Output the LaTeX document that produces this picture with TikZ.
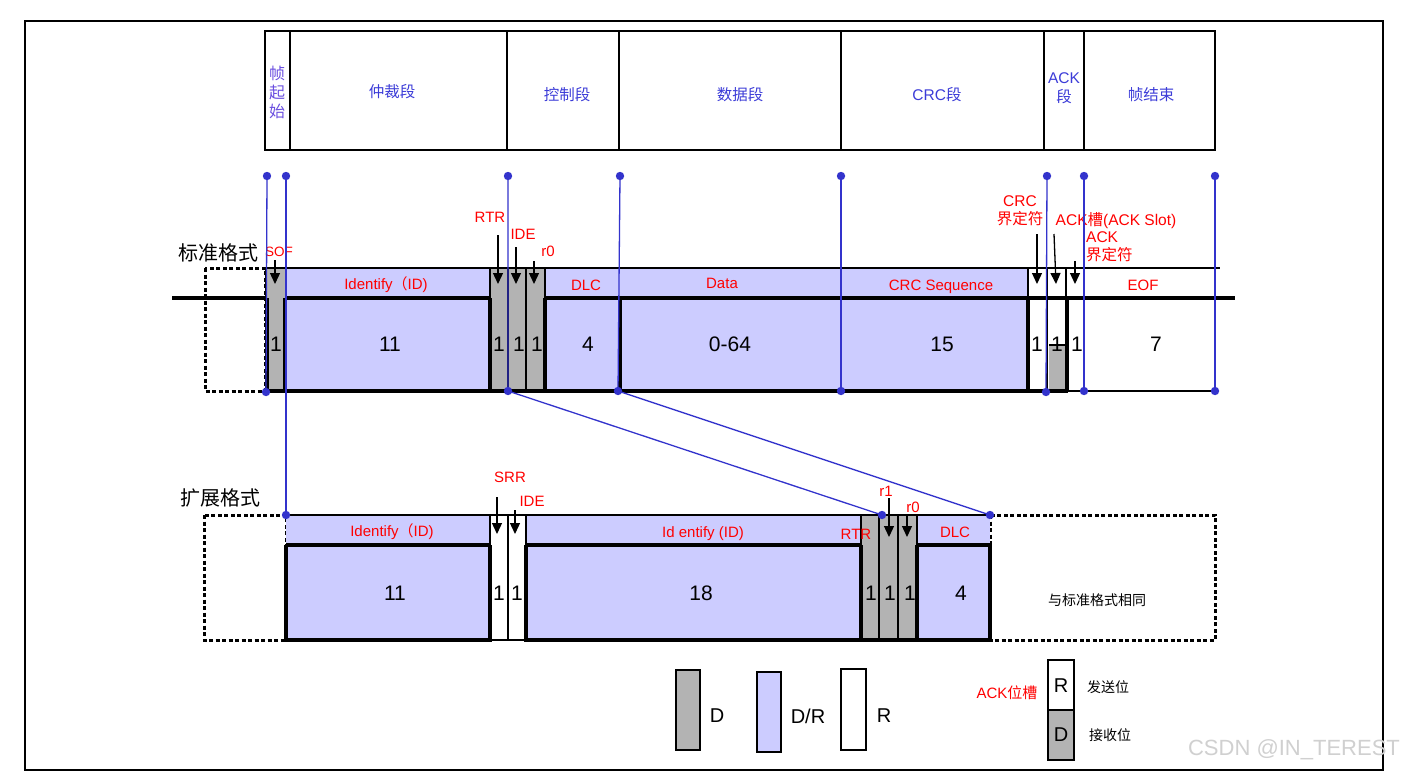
\documentclass[tikz,border=0pt]{standalone}
\usepackage{fontspec}
\setmainfont{Liberation Sans}
\newfontfamily\cjk{Noto Sans CJK SC}
\usetikzlibrary{arrows.meta}
\definecolor{lav}{HTML}{CCCCFF}
\definecolor{gry}{HTML}{B3B3B3}
\definecolor{lineblue}{HTML}{3333CC}
\definecolor{hdrblue}{HTML}{3C3CD8}
\definecolor{hdrviolet}{HTML}{6A4EE0}
\definecolor{wm}{HTML}{D0D0D0}
\begin{document}
\begin{tikzpicture}[x=1pt,y=-1pt,
  hdr/.style={text=hdrblue, font=\cjk\fontsize{15.5}{19}\selectfont, inner sep=0pt, align=center},
  lbl/.style={text=red, font=\fontsize{15}{17}\selectfont, inner sep=0pt, align=center},
  num/.style={font=\fontsize{21}{24}\selectfont, inner sep=0pt},
  fmt/.style={font=\cjk\fontsize{20}{22}\selectfont, inner sep=0pt},
  thinl/.style={line width=1.3pt},
  thickl/.style={line width=3.6pt},
  busl/.style={line width=4pt},
  dotbox/.style={line width=3pt, dash pattern=on 4pt off 2.5pt},
  conn/.style={draw=lineblue, line width=1.3pt},
  arr/.style={-{Triangle[length=11pt,width=10pt]}, line width=1.3pt},
  dotc/.style={fill=lineblue}]
\useasboundingbox (0,0) rectangle (1413,777);
\fill[white] (0,0) rectangle (1413,777);
% outer border
\draw[line width=2.6pt] (25,21) rectangle (1383,770);

% ---------------- header ----------------
\draw[line width=2pt] (265,31) rectangle (1215,150);
\foreach \xx in {290,507,619,841,1044,1084} \draw[line width=2pt] (\xx,31) -- (\xx,150);
\node[hdr, text=hdrviolet, font=\cjk\fontsize{16}{19}\selectfont] (hsof) at (277,92) {帧\\起\\始};
\node[hdr] (harb) at (392,92) {仲裁段};
\node[hdr] (hctl) at (567,95) {控制段};
\node[hdr] (hdat) at (740,95) {数据段};
\node[hdr, font=\fontsize{15.5}{19}\selectfont] (hcrc) at (937,95) {CRC{\cjk 段}};
\node[hdr, font=\fontsize{15.5}{19}\selectfont] (hack) at (1064,88) {ACK\\{\cjk 段}};
\node[hdr] (heof) at (1151,95) {帧结束};

% ---------------- standard frame ----------------
\node[fmt] (stdname) at (218,253) {标准格式};
\draw[dotbox] (205,268) rectangle (265,391);
\fill[gry] (266,268) rectangle (285,391);
\fill[lav] (285,268) rectangle (490,391);
\fill[gry] (490,268) rectangle (545,391);
\fill[lav] (545,268) rectangle (1028,391);
\fill[gry] (1049,345) rectangle (1066,391);
% thin lines
\draw[thinl] (266,268) -- (1220,268);
\draw[thinl] (266,268) -- (266,391);
\draw[thinl] (508,268) -- (508,391);
\draw[thinl] (526,268) -- (526,391);
\foreach \xx in {490,545,1028,1066} \draw[thinl] (\xx,268) -- (\xx,298);
\draw[thinl] (1047,268) -- (1047,391);
\draw[thinl] (841,298) -- (841,391);
\draw[thinl] (1049,345) -- (1066,345);
\draw[thinl] (1067,391) -- (1215,391);
% bus line
\draw[busl] (172,298) -- (266,298);
\draw[busl] (285,298) -- (490,298);
\draw[busl] (545,298) -- (1235,298);
% thick borders
\foreach \xx in {267,285,490,545,620,1028,1067} \draw[thickl] (\xx,298) -- (\xx,391);
\draw[thickl] (265,391) -- (1068,391);

% labels std
\node[lbl, font=\fontsize{13.5}{15}\selectfont] (sof) at (279,252) {SOF};
\node[lbl] (stdid) at (386,285) {Identify{\cjk （}ID)};
\node[lbl] (rtr) at (490,217) {RTR};
\node[lbl] (ide) at (523,234) {IDE};
\node[lbl] (rz) at (548,251) {r0};
\node[lbl] (dlc) at (586,285) {DLC};
\node[lbl] (data) at (722,283) {Data};
\node[lbl] (crcseq) at (941,287) {CRC Sequence};
\node[lbl] (eof) at (1143,285) {EOF};
\node[lbl, font=\fontsize{15.5}{18}\selectfont] (crcdel) at (1020,211) {CRC\\{\cjk 界定符}};
\node[lbl, font=\fontsize{15.5}{18}\selectfont] (ackslot) at (1116,221) {ACK{\cjk 槽}(ACK Slot)};
\node[lbl, font=\fontsize{15.5}{18}\selectfont, align=left, anchor=west] (ackdel) at (1086,247) {ACK\\{\cjk 界定符}};

\node[num] (n1) at (276,344) {1};
\node[num] (n2) at (390,344) {11};
\node[num] (n3) at (499,344) {1};
\node[num] (n4) at (519,344) {1};
\node[num] (n5) at (537,344) {1};
\node[num] (n6) at (588,344) {4};
\node[num] (n7) at (730,344) {0-64};
\node[num] (n8) at (942,344) {15};
\node[num] (n9) at (1037,344) {1};
\node[num] (n10) at (1057,344) {1};
\node[num] (n11) at (1077,344) {1};
\node[num] (n12) at (1156,344) {7};

% arrows std
\coordinate (a1s) at (275,260); \coordinate (a1e) at (275,284);
\coordinate (a2s) at (498,235); \coordinate (a2e) at (498,284);
\coordinate (a3s) at (516,247); \coordinate (a3e) at (516,284);
\coordinate (a4s) at (534,261); \coordinate (a4e) at (534,284);
\coordinate (a5s) at (1037,234); \coordinate (a5e) at (1037,284);
\coordinate (a6s) at (1054,234); \coordinate (a6e) at (1056,284);
\coordinate (a7s) at (1075,261); \coordinate (a7e) at (1075,284);
\foreach \i in {1,...,7} \draw[arr] (a\i s) -- (a\i e);

% ---------------- extended frame ----------------
\node[fmt] (extname) at (220,498) {扩展格式};
\draw[dotbox] (204,515) rectangle (286,640);
\draw[dotbox] (990,515) rectangle (1215,640);
\fill[lav] (286,515) rectangle (490,640);
\fill[white] (490,515) rectangle (526,640);
\fill[lav] (526,515) rectangle (861,640);
\fill[gry] (861,515) rectangle (917,640);
\fill[lav] (917,515) rectangle (990,640);
\draw[thinl] (286,515) -- (990,515);
\foreach \xx in {490,508,526,879,898} \draw[thinl] (\xx,515) -- (\xx,640);
\foreach \xx in {861,917} \draw[thinl] (\xx,515) -- (\xx,545);
\draw[thinl] (490,640) -- (526,640);
\draw[thickl] (286,545) -- (490,545);
\draw[thickl] (526,545) -- (861,545);
\draw[thickl] (917,545) -- (990,545);
\foreach \xx in {286,490,526,861,917,990} \draw[thickl] (\xx,545) -- (\xx,640);
\draw[thickl] (284,640) -- (492,640);
\draw[thickl] (524,640) -- (992,640);

\node[lbl] (extid) at (392,532) {Identify{\cjk （}ID)};
\node[lbl] (extid2) at (703,534) {Id entify (ID)};
\node[lbl] (rtr2) at (856,534) {RTR};
\node[lbl] (dlc2) at (955,532) {DLC};
\node[lbl] (srr) at (510,477) {SRR};
\node[lbl] (ide2) at (532,501) {IDE};
\node[lbl] (r1) at (886,491) {r1};
\node[lbl] (r02) at (913,507) {r0};
\node[num] (m1) at (395,593) {11};
\node[num] (m2) at (499,593) {1};
\node[num] (m3) at (517,593) {1};
\node[num] (m4) at (701,593) {18};
\node[num] (m5) at (871,593) {1};
\node[num] (m6) at (890,593) {1};
\node[num] (m7) at (910,593) {1};
\node[num] (m8) at (961,593) {4};
\node[font=\cjk\fontsize{14}{16}\selectfont, inner sep=0pt] (same) at (1097,600) {与标准格式相同};

\coordinate (b1s) at (497,497); \coordinate (b1e) at (497,534);
\coordinate (b2s) at (515,510); \coordinate (b2e) at (515,534);
\coordinate (b3s) at (889,498); \coordinate (b3e) at (889,537);
\coordinate (b4s) at (907,515); \coordinate (b4e) at (907,537);
\foreach \i in {1,...,4} \draw[arr] (b\i s) -- (b\i e);

% ---------------- blue connectors ----------------
\coordinate (t1) at (267,176); \coordinate (t2) at (286,176);
\coordinate (t3) at (508,176); \coordinate (t4) at (620,176);
\coordinate (t5) at (841,176); \coordinate (t6) at (1047,176);
\coordinate (t7) at (1084,176); \coordinate (t8) at (1215,176);
\coordinate (d1) at (266,392); \coordinate (d3) at (508,391);
\coordinate (d4) at (618,391); \coordinate (d5) at (841,391);
\coordinate (d6) at (1046,392); \coordinate (d7) at (1084,391);
\coordinate (d8) at (1215,391);
\coordinate (e2) at (286,515); \coordinate (e3) at (882,515);
\coordinate (e4) at (990,515);
\draw[conn] (t1) -- (d1);
\draw[conn] (t2) -- (e2);
\draw[conn] (t3) -- (d3) -- (e3);
\draw[conn] (t4) -- (d4) -- (e4);
\draw[conn] (t5) -- (d5);
\draw[conn] (t6) -- (d6);
\draw[conn] (t7) -- (d7);
\draw[conn] (t8) -- (d8);
\foreach \c in {t1,t2,t3,t4,t5,t6,t7,t8,d1,d3,d4,d5,d6,d7,d8,e2,e3,e4}
  \fill[dotc] (\c) circle (4.2pt);

% ---------------- legend ----------------
\draw[thinl, fill=gry] (676,670) rectangle (700,750);
\draw[thinl, fill=lav] (757,672) rectangle (781,752);
\draw[thinl, fill=white] (841,669) rectangle (866,750);
\node[num, font=\fontsize{20}{22}\selectfont] (lgD) at (717,716) {D};
\node[num, font=\fontsize{20}{22}\selectfont] (lgDR) at (808,716) {D/R};
\node[num, font=\fontsize{20}{22}\selectfont] (lgR) at (884,716) {R};
\node[lbl, font=\fontsize{15}{17}\selectfont] (ackbit) at (1007,693) {ACK{\cjk 位槽}};
\draw[thinl, fill=white] (1048,660) rectangle (1074,710);
\draw[thinl, fill=gry] (1048,710) rectangle (1074,760);
\node[num, font=\fontsize{20}{22}\selectfont] (lgR2) at (1061,686) {R};
\node[num, font=\fontsize{20}{22}\selectfont] (lgD2) at (1061,735) {D};
\node[font=\cjk\fontsize{14}{16}\selectfont, inner sep=0pt] (send) at (1108,687) {发送位};
\node[font=\cjk\fontsize{14}{16}\selectfont, inner sep=0pt] (recv) at (1110,735) {接收位};

% watermark
\node[text=wm, font=\fontsize{22}{24}\selectfont, inner sep=0pt] (wmark) at (1294,750) {CSDN @IN\_TEREST};
\end{tikzpicture}
\end{document}
